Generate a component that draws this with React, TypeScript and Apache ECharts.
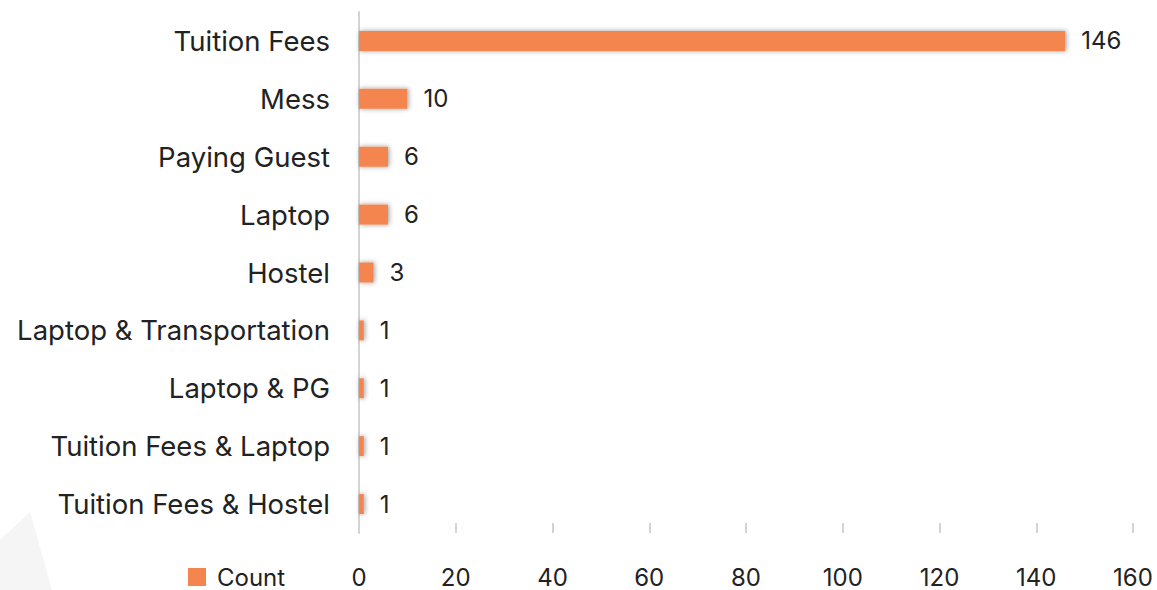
import React, { useEffect, useRef } from "react";
import * as echarts from "echarts";

const categories = [
  "Tuition Fees",
  "Mess",
  "Paying Guest",
  "Laptop",
  "Hostel",
  "Laptop & Transportation",
  "Laptop & PG",
  "Tuition Fees & Laptop",
  "Tuition Fees & Hostel",
];
const counts = [146, 10, 6, 6, 3, 1, 1, 1, 1];
const seriesName = "Count";

export default function App() {
  const ref = useRef<HTMLDivElement>(null);
  useEffect(() => {
    if (!ref.current) return;
    const chart = echarts.init(ref.current, undefined, { renderer: "svg" });
    const font = "Inter";
    chart.setOption({
      animation: false,
      textStyle: { fontFamily: font },
      graphic: [
        {
          type: "polygon",
          z: -10,
          shape: { points: [[0, 540], [30, 512], [52, 590], [0, 590]] },
          style: { fill: "#f5f5f5" },
        },
      ],
      legend: {
        left: 183,
        top: 560,
        padding: 5,
        itemWidth: 18,
        itemHeight: 18,
        itemGap: 10,
        icon: "rect",
        data: [seriesName],
        textStyle: { fontSize: 24, color: "#222", fontFamily: font, padding: [0, 0, 0, 6] },
      },
      grid: { left: 359, right: 24, top: 12, bottom: 57 },
      xAxis: {
        type: "value",
        min: 0,
        max: 160,
        interval: 20,
        axisLine: { show: false },
        axisTick: { show: true, inside: true, length: 10, lineStyle: { color: "#d4d4d4", width: 2 } },
        splitLine: { show: false },
        axisLabel: { fontSize: 24, color: "#222", margin: 32, fontFamily: font },
      },
      yAxis: {
        type: "category",
        data: categories,
        inverse: true,
        axisLine: { show: true, lineStyle: { color: "#d4d4d4", width: 2 } },
        axisTick: { show: false },
        axisLabel: { fontSize: 27.5, color: "#222", margin: 29, fontFamily: font },
      },
      series: [
        {
          name: seriesName,
          type: "bar",
          data: counts,
          barWidth: 20,
          itemStyle: {
            color: "#F5854F",
            shadowColor: "rgba(0,0,0,0.4)",
            shadowBlur: 5,
            shadowOffsetX: 1,
          },
          label: {
            show: true,
            position: "right",
            distance: 16,
            fontSize: 24,
            color: "#222",
            fontFamily: font,
          },
        },
      ],
    });
    return () => chart.dispose();
  }, []);
  return <div ref={ref} style={{ width: 1157, height: 590, position: "absolute", left: 0, top: 0 }} />;
}
